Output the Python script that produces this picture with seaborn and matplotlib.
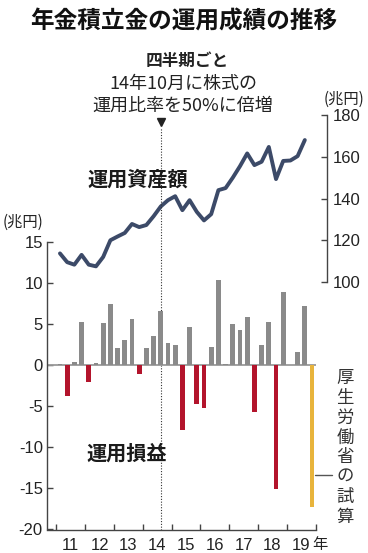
import matplotlib
matplotlib.use("Agg")
import matplotlib.pyplot as plt
import seaborn as sns
import numpy as np
import pandas as pd

# ---- data (quarterly, FY2011 Q1 .. FY2019 Q4) ----
years = ["11", "12", "13", "14", "15", "16", "17", "18", "19"]
returns = [0.1, -3.8, 0.4, 5.3, -2.1, 0.3, 5.1, 7.5, 2.1, 3.1, 5.6, -1.1,
           2.1, 3.5, 6.6, 2.7, 2.5, -7.9, 4.6, -4.7, -5.2, 2.2, 10.4, 0.1,
           5.0, 4.3, 5.9, -5.7, 2.4, 5.3, -15.1, 8.9, 0.05, 1.6, 7.2, -17.3]
kinds = ["est" if i == len(returns) - 1 else ("pos" if v >= 0 else "neg")
         for i, v in enumerate(returns)]
assets = [113.7, 109.5, 108.3, 113.0, 108.3, 107.5, 112.0, 120.0, 121.8,
          123.5, 127.8, 126.3, 127.3, 131.5, 136.2, 139.2, 141.1, 134.4,
          139.2, 133.6, 129.5, 132.5, 144.0, 145.0, 150.0, 155.5, 161.6,
          156.0, 157.6, 164.7, 149.3, 158.0, 158.2, 160.3, 168.0]
left_ticks = [-20, -15, -10, -5, 0, 5, 10, 15]
right_ticks = [100, 120, 140, 160, 180]

quarters = np.arange(len(returns))
df_bar = pd.DataFrame({"q": quarters, "v": returns, "kind": kinds})
df_line = pd.DataFrame({"q": quarters[:len(assets)], "a": assets})

sns.set_theme(style="white")
plt.rcParams["font.family"] = ["Liberation Sans", "Noto Sans CJK JP", "DejaVu Sans"]
plt.rcParams["axes.unicode_minus"] = False
JP = ["Noto Sans CJK JP", "DejaVu Sans"]

W, H = 368, 553
fig = plt.figure(figsize=(W / 100, H / 100), dpi=100)
fig.patch.set_facecolor("white")

def fx(px):
    return px / W

def fy(py):
    return 1 - py / H

ax = fig.add_axes([fx(47), fy(530), fx(327) - fx(47), fy(115) - fy(530)])
ax.set_facecolor("none")
ax2 = ax.twinx()
ax.set_zorder(2)
ax2.set_zorder(1)

palette = {"pos": "#8a8a8a", "neg": "#b3142c", "est": "#e8b43c"}
sns.barplot(data=df_bar, x="q", y="v", hue="kind", palette=palette,
            dodge=False, native_scale=True, width=0.68, legend=False,
            saturation=1, ax=ax, zorder=3, linewidth=0)

xmin, xmax = -1.8, 37.08
ax.hlines(0, xmin, len(returns) - 0.5, color="#9a9a9a", lw=1.3, zorder=2)
ax.set_xlim(xmin, xmax)
ax.set_ylim(-20.1, 30.5)

sns.lineplot(data=df_line, x="q", y="a", ax=ax2, color="#3c4a68", lw=2.8,
             sort=False)
ax2.set_ylim(-18.8, 180)
ax2.set_xlim(xmin, xmax)

spine_c = "#444444"
for a in (ax, ax2):
    for s in a.spines.values():
        s.set_visible(False)
    a.set_xlabel("")
    a.set_ylabel("")
    a.grid(False)

ax.spines["left"].set_visible(True)
ax.spines["left"].set_bounds(-20, 15)
ax.spines["bottom"].set_visible(True)
ax.spines["bottom"].set_bounds(xmin, len(returns) - 0.5)
ax2.spines["right"].set_visible(True)
ax2.spines["right"].set_bounds(100, 180)
for s in (ax.spines["left"], ax.spines["bottom"], ax2.spines["right"]):
    s.set_color(spine_c)
    s.set_linewidth(1.0)

ax.set_yticks(left_ticks)
ax.set_yticklabels([str(t) for t in left_ticks])
ax.tick_params(axis="y", direction="in", length=4, width=1, color=spine_c,
               pad=3, labelsize=12, left=True, labelcolor="#222")
year_edges = [-0.5 + 4 * i for i in range(len(years) + 1)]
ax.set_xticks(year_edges)
ax.set_xticklabels([""] * len(year_edges))
ax.set_xticks([1.5 + 4 * i for i in range(len(years))], minor=True)
ax.set_xticklabels(years, minor=True)
ax.tick_params(axis="x", which="major", direction="in", length=4, width=1,
               color=spine_c, bottom=True)
ax.tick_params(axis="x", which="minor", length=0, pad=6, labelsize=12,
               labelcolor="#222", bottom=True)

ax2.set_yticks(right_ticks)
ax2.set_yticklabels([str(t) for t in right_ticks])
ax2.tick_params(axis="y", direction="in", length=4, width=1, color=spine_c,
                pad=4, labelsize=12, right=True, labelcolor="#222")

# policy change marker
ax.vlines(14, -20.1, 28.9, color="#333333", lw=0.8, linestyles=(0, (1, 1.5)),
          zorder=1, clip_on=False)
ax.plot([14], [29.6], marker="v", color="#222222", markersize=6,
        clip_on=False, zorder=5)

# leader line for estimate
ax.plot([35.4, 37.8], [-13.4, -13.4], color="#555555", lw=1.0, clip_on=False)

# texts
fig.text(fx(184), fy(22), "年金積立金の運用成績の推移", ha="center", va="center",
         fontsize=17, fontweight="bold", family=JP, color="#111")
fig.text(fx(187), fy(61), "四半期ごと", ha="center", va="center",
         fontsize=12, fontweight="bold", family=JP, color="#222")
fig.text(fx(183), fy(84), "14年10月に株式の", ha="center", va="center",
         fontsize=13, family=JP, color="#222")
fig.text(fx(183), fy(106), "運用比率を50%に倍増", ha="center", va="center",
         fontsize=13, family=JP, color="#222")
fig.text(fx(138), fy(179), "運用資産額", ha="center", va="center",
         fontsize=14.5, fontweight="bold", family=JP, color="#1a1a1a", zorder=10)
fig.text(fx(127), fy(453), "運用損益", ha="center", va="center",
         fontsize=14.5, fontweight="bold", family=JP, color="#1a1a1a", zorder=10)
fig.text(fx(3), fy(222), "(兆円)", ha="left", va="center",
         fontsize=11, family=JP, color="#222")
fig.text(fx(324), fy(99), "(兆円)", ha="left", va="center",
         fontsize=11, family=JP, color="#222")
fig.text(fx(320), fy(545), "年", ha="center", va="center",
         fontsize=11, family=JP, color="#222")
fig.text(fx(345), fy(369), "\n".join("厚生労働省の試算"), ha="center", va="top",
         fontsize=12.5, family=JP, color="#333", linespacing=1.13)

fig.savefig("out.png", dpi=100, facecolor="white")
